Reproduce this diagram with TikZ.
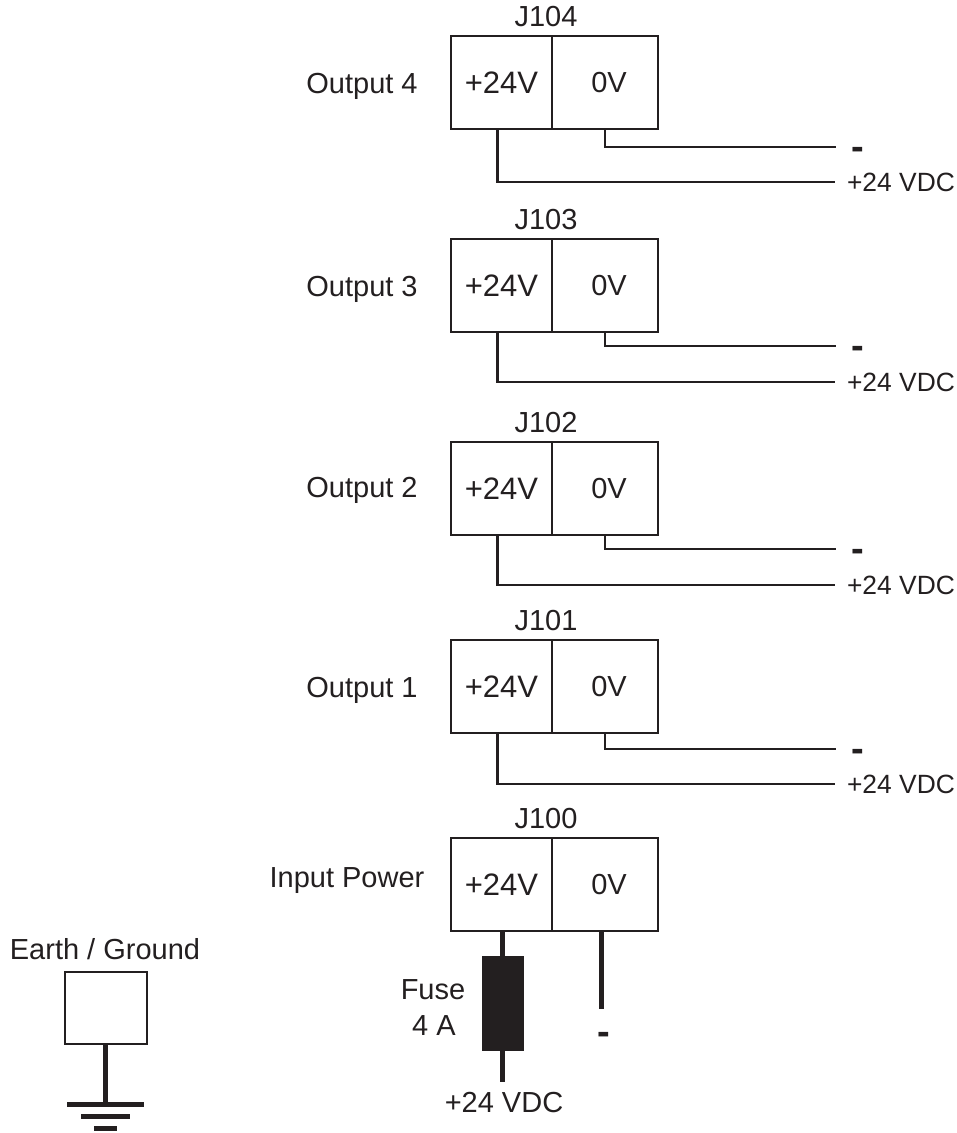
\documentclass[tikz,border=0pt]{standalone}
\usepackage{fontspec}
\setmainfont{Liberation Sans}
\definecolor{ink}{HTML}{231F20}
\tikzset{
  big/.style={font=\fontsize{29}{32}\selectfont,text=ink,inner sep=0pt},
  small/.style={font=\fontsize{26.4}{30}\selectfont,text=ink,inner sep=0pt},
  minussign/.style={font=\fontsize{38}{40}\bfseries\selectfont,text=ink,inner sep=0pt},
  plusbox/.style={draw=ink,line width=2.6pt,outer sep=0pt,inner sep=0pt,minimum width=101pt,minimum height=93pt,font=\fontsize{31}{34}\selectfont,text=ink},
  zerobox/.style={draw=ink,line width=2.6pt,outer sep=0pt,inner sep=0pt,minimum width=106pt,minimum height=93pt,big},
  thinwire/.style={draw=ink,line width=2.4pt},
  thickwire/.style={draw=ink,line width=5pt},
}
\newcommand{\plustext}{\raisebox{-1.5pt}{+24V}}
\newcommand{\zerotext}{\hspace*{8pt}\raisebox{-1.5pt}{0V}}
\begin{document}
\begin{tikzpicture}[x=1pt,y=-1pt]
\useasboundingbox (0,0) rectangle (957,1133);
% output connectors
\foreach \nm/\top/\ym/\yp/\yo/\lab in {104/36/147/182/86/Output 4,103/239/346/382/289/Output 3,102/442/549/585/490.5/Output 2,101/640/749/784/690.5/Output 1}{
  \node[plusbox,anchor=north west] (p\nm) at (451,\top) {\plustext};
  \node[zerobox,anchor=north west] (z\nm) at (552,\top) {\zerotext};
  \node[big] (j\nm) at (546,\top-19) {J\nm};
  \node[big] (o\nm) at (362,\yo) {\lab};
  \coordinate (me\nm) at (836,\ym);
  \coordinate (pe\nm) at (835,\yp);
  \node[minussign] (ms\nm) at (858,\ym+6) {-};
  \node[small] (v\nm) at (901,\yp) {+24 VDC};
  \draw[thinwire] (z\nm.south) |- (me\nm);
  \draw[thinwire] ([xshift=-4.2pt]p\nm.south) |- (pe\nm);
}
% input connector
\node[plusbox,anchor=north west] (p100) at (451,838) {\plustext};
\node[zerobox,anchor=north west] (z100) at (552,838) {\zerotext};
\node[big] (j100) at (546,819) {J100};
\node[big] (inp) at (347,881) {Input Power};
\node[draw=ink,fill=ink,outer sep=0pt,inner sep=0pt,minimum width=41pt,minimum height=94pt] (fuse) at (502.5,1003) {};
\node[big] (fuselab) at (433,990) {Fuse};
\node[big] (fuseamp) at (434,1026) {4 A};
\coordinate (fuseend) at (502.5,1082);
\node[big] (vin) at (504,1103) {+24 VDC};
\coordinate (minend) at (601.5,1009);
\node[minussign] (minlab) at (603.5,1038) {-};
\draw[thickwire] (fuse.north) -- (fuse.north |- p100.south);
\draw[thickwire] (fuse.south) -- (fuseend);
\draw[thickwire] (minend |- z100.south) -- (minend);
% earth
\node[big] (earthlab) at (105,949) {Earth / Ground};
\node[draw=ink,line width=2.6pt,outer sep=0pt,minimum width=82pt,minimum height=72pt] (earth) at (106,1008) {};
\coordinate (g1) at (105,1104);
\draw[thickwire] (earth.south -| g1) -- (g1);
\draw[thickwire] (67,1104) coordinate (g1a) -- (144,1104) coordinate (g1b);
\draw[thickwire] (81,1116) coordinate (g2a) -- (130,1116) coordinate (g2b);
\draw[thickwire] (94,1128) coordinate (g3a) -- (117,1128) coordinate (g3b);
\end{tikzpicture}
\end{document}
